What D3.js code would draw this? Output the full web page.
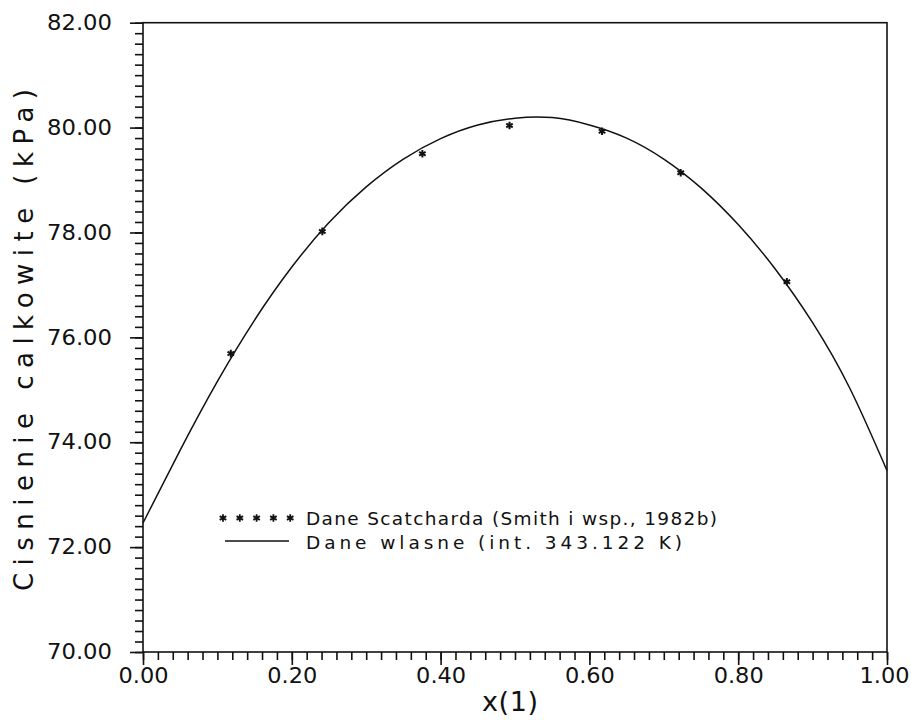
<!DOCTYPE html>
<html>
<head>
<meta charset="utf-8">
<script src="https://cdn.jsdelivr.net/npm/d3@7"></script>
<style>
  html, body { margin: 0; padding: 0; background: #fff; }
  svg { display: block; }
  text { font-family: "DejaVu Sans", "Liberation Sans", Arial, sans-serif; fill: #111; }
</style>
</head>
<body>
<svg id="chart" width="911" height="720"></svg>
<script>
// ---- data ----
const xTickValues = [0.0, 0.2, 0.4, 0.6, 0.8, 1.0];
const yTickValues = [70, 72, 74, 76, 78, 80, 82];
const xTickLabels = ["0.00", "0.20", "0.40", "0.60", "0.80", "1.00"];
const yTickLabels = ["70.00", "72.00", "74.00", "76.00", "78.00", "80.00", "82.00"];

// Scatchard data (stars)
const scatchardX = [0.118, 0.241, 0.3755, 0.4926, 0.617, 0.7227, 0.8654];
const scatchardP = [75.69, 78.02, 79.50, 80.04, 79.93, 79.14, 77.06];

// own data (smooth line)
const ownX = [0.00, 0.05, 0.10, 0.15, 0.20, 0.25, 0.30, 0.35, 0.40, 0.45, 0.50,
              0.55, 0.60, 0.65, 0.70, 0.75, 0.80, 0.85, 0.90, 0.95, 1.00];
const ownP = [72.46, 73.85, 75.16, 76.33, 77.34, 78.19, 78.87, 79.40, 79.79, 80.05, 80.18,
              80.19, 80.05, 79.80, 79.40, 78.85, 78.15, 77.30, 76.28, 75.03, 73.46];

const legendLabels = ["Dane Scatcharda (Smith i wsp., 1982b)", "Dane wlasne (int. 343.122 K)"];
const xTitle = "x(1)";
const yTitle = "Cisnienie calkowite (kPa)";

// ---- layout ----
const svg = d3.select("#chart");
const mLeft = 143, mRight = 887, mTop = 22.7, mBottom = 652;
const x = d3.scaleLinear().domain([0, 1]).range([mLeft, mRight]);
const y = d3.scaleLinear().domain([70, 82]).range([mBottom, mTop]);
const ink = "#111";

// minor ticks
const xMinor = d3.range(0, 51).map(i => i * 0.02);
const yMinor = d3.range(0, 61).map(i => 70 + i * 0.2);

const gxMinor = svg.append("g").attr("transform", `translate(0,${mBottom})`)
  .call(d3.axisBottom(x).tickValues(xMinor).tickSize(8).tickSizeOuter(0).tickFormat(""));
const gyMinor = svg.append("g").attr("transform", `translate(${mLeft},0)`)
  .call(d3.axisLeft(y).tickValues(yMinor).tickSize(8).tickSizeOuter(0).tickFormat(""));

const gx = svg.append("g").attr("transform", `translate(0,${mBottom})`)
  .call(d3.axisBottom(x).tickValues(xTickValues).tickSize(13).tickSizeOuter(0)
        .tickFormat((d, i) => xTickLabels[i]).tickPadding(3));
const gy = svg.append("g").attr("transform", `translate(${mLeft},0)`)
  .call(d3.axisLeft(y).tickValues(yTickValues).tickSize(13).tickSizeOuter(0)
        .tickFormat((d, i) => yTickLabels[i]).tickPadding(18));

[gxMinor, gyMinor, gx, gy].forEach(g => {
  g.select(".domain").remove();
  g.selectAll(".tick line").attr("stroke", ink).attr("stroke-width", 1.6);
});
gx.selectAll(".tick text").attr("font-size", 21).attr("textLength", 50)
  .attr("lengthAdjust", "spacingAndGlyphs").attr("dy", "0.73em").attr("y", 15.5).attr("fill", ink)
  .attr("x", (d, i) => i === xTickValues.length - 1 ? -3 : 0);
gy.selectAll(".tick text").attr("font-size", 21).attr("textLength", 65)
  .attr("lengthAdjust", "spacingAndGlyphs").attr("fill", ink);

// frame
svg.append("rect").attr("x", mLeft).attr("y", mTop)
  .attr("width", mRight - mLeft).attr("height", mBottom - mTop)
  .attr("fill", "none").attr("stroke", ink).attr("stroke-width", 1.6);

// own data line
const pts = ownX.map((v, i) => [v, ownP[i]]);
svg.append("path").datum(pts)
  .attr("fill", "none").attr("stroke", ink).attr("stroke-width", 1.5)
  .attr("d", d3.line().x(d => x(d[0])).y(d => y(d[1])).curve(d3.curveNatural));

// stars
const star = d3.symbol().type(d3.symbolAsterisk).size(40);
svg.append("g").selectAll("path").data(scatchardX.map((v, i) => [v, scatchardP[i]]))
  .join("path")
  .attr("transform", d => `translate(${x(d[0])},${y(d[1])})`)
  .attr("d", star).attr("fill", "none").attr("stroke", ink).attr("stroke-width", 2);

// legend
const lg = svg.append("g");
d3.range(5).forEach(i => {
  lg.append("path").attr("transform", `translate(${223 + i * 16.8},518)`)
    .attr("d", star).attr("fill", "none").attr("stroke", ink).attr("stroke-width", 1.8);
});
lg.append("line").attr("x1", 225).attr("x2", 289).attr("y1", 541).attr("y2", 541)
  .attr("stroke", ink).attr("stroke-width", 1.5);
lg.append("text").attr("x", 306).attr("y", 525).attr("font-size", 18.5)
  .attr("textLength", 411).attr("lengthAdjust", "spacing").text(legendLabels[0]);
lg.append("text").attr("x", 306).attr("y", 548.5).attr("font-size", 18.5)
  .attr("textLength", 376).attr("lengthAdjust", "spacing").text(legendLabels[1]);

// axis titles
svg.append("text").attr("x", (mLeft + mRight) / 2 - 5).attr("y", 711)
  .attr("text-anchor", "middle").attr("font-size", 27).attr("textLength", 56)
  .attr("lengthAdjust", "spacing").text(xTitle);
svg.append("text").attr("transform", `translate(33,340) rotate(-90)`)
  .attr("text-anchor", "middle").attr("font-size", 26).attr("textLength", 502)
  .attr("lengthAdjust", "spacing").text(yTitle);
</script>
</body>
</html>
